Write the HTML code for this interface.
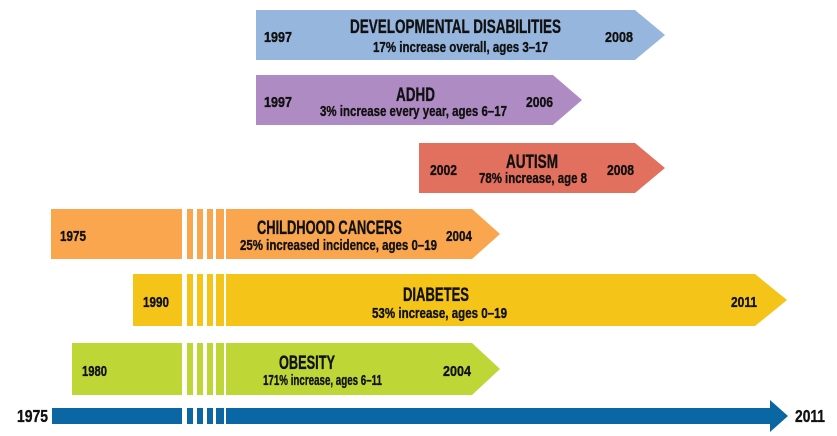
<!DOCTYPE html>
<html>
<head>
<meta charset="utf-8">
<style>
html,body{margin:0;padding:0;background:#fff;}
svg{display:block;}
text{font-family:"Liberation Sans Narrow","Liberation Sans",sans-serif;font-weight:bold;fill:#111;stroke:#111;stroke-width:0.35;}
</style>
</head>
<body>
<svg width="837" height="436" viewBox="0 0 837 436" xmlns="http://www.w3.org/2000/svg">
  <!-- Developmental disabilities -->
  <polygon points="256,10 635,10 665,35 635,60 256,60" fill="#97b6de"/>
  <!-- ADHD -->
  <polygon points="256,75 553,75 582,100 553,125 256,125" fill="#ae8bc3"/>
  <!-- Autism -->
  <polygon points="419,143 635,143 665,168 635,193 419,193" fill="#e2705f"/>

  <!-- Childhood cancers -->
  <g fill="#f9a64e">
    <rect x="51" y="209" width="131" height="50"/>
    <rect x="187" y="209" width="6" height="50"/>
    <rect x="197" y="209" width="6" height="50"/>
    <rect x="207" y="209" width="6" height="50"/>
    <rect x="216" y="209" width="8" height="50"/>
    <polygon points="226,209 472,209 500,234 472,259 226,259"/>
  </g>
  <!-- Diabetes -->
  <g fill="#f4c418">
    <rect x="133" y="274" width="49" height="52"/>
    <rect x="187" y="274" width="6" height="52"/>
    <rect x="197" y="274" width="6" height="52"/>
    <rect x="207" y="274" width="6" height="52"/>
    <rect x="216" y="274" width="8" height="52"/>
    <polygon points="226,274 755,274 787,300 755,326 226,326"/>
  </g>
  <!-- Obesity -->
  <g fill="#bed636">
    <rect x="72" y="343" width="110" height="52"/>
    <rect x="187" y="343" width="6" height="52"/>
    <rect x="197" y="343" width="6" height="52"/>
    <rect x="207" y="343" width="6" height="52"/>
    <rect x="216" y="343" width="8" height="52"/>
    <polygon points="226,343 472,343 500,369 472,395 226,395"/>
  </g>
  <!-- Axis -->
  <g fill="#0a67a3">
    <rect x="52" y="408" width="130" height="16"/>
    <rect x="187" y="408" width="6" height="16"/>
    <rect x="197" y="408" width="6" height="16"/>
    <rect x="207" y="408" width="6" height="16"/>
    <rect x="216" y="408" width="8" height="16"/>
    <rect x="226" y="408" width="546" height="16"/>
    <polygon points="770,400 788,416 770,432"/>
  </g>

  <!-- Dev text -->
  <text x="350" y="33" font-size="19" textLength="211" lengthAdjust="spacingAndGlyphs">DEVELOPMENTAL DISABILITIES</text>
  <text x="373" y="52" font-size="14.5" textLength="175" lengthAdjust="spacingAndGlyphs">17% increase overall, ages 3–17</text>
  <text x="264" y="42" font-size="14.5" textLength="28" lengthAdjust="spacingAndGlyphs">1997</text>
  <text x="605" y="42" font-size="14.5" textLength="28" lengthAdjust="spacingAndGlyphs">2008</text>

  <!-- ADHD text -->
  <text x="396" y="101" font-size="19" textLength="39" lengthAdjust="spacingAndGlyphs">ADHD</text>
  <text x="320" y="116" font-size="14.5" textLength="187" lengthAdjust="spacingAndGlyphs">3% increase every year, ages 6–17</text>
  <text x="264" y="107" font-size="14.5" textLength="28" lengthAdjust="spacingAndGlyphs">1997</text>
  <text x="526" y="107" font-size="14.5" textLength="27" lengthAdjust="spacingAndGlyphs">2006</text>

  <!-- Autism text -->
  <text x="506" y="168" font-size="19" textLength="52" lengthAdjust="spacingAndGlyphs">AUTISM</text>
  <text x="479" y="183" font-size="14.5" textLength="108" lengthAdjust="spacingAndGlyphs">78% increase, age 8</text>
  <text x="430" y="175" font-size="14.5" textLength="27" lengthAdjust="spacingAndGlyphs">2002</text>
  <text x="607" y="175" font-size="14.5" textLength="27" lengthAdjust="spacingAndGlyphs">2008</text>

  <!-- Cancer text -->
  <text x="257" y="234" font-size="19" textLength="145" lengthAdjust="spacingAndGlyphs">CHILDHOOD CANCERS</text>
  <text x="240" y="250" font-size="14.5" textLength="197" lengthAdjust="spacingAndGlyphs">25% increased incidence, ages 0–19</text>
  <text x="446" y="241" font-size="14.5" textLength="26" lengthAdjust="spacingAndGlyphs">2004</text>
  <text x="60" y="241" font-size="14.5" textLength="26" lengthAdjust="spacingAndGlyphs">1975</text>

  <!-- Diabetes text -->
  <text x="403" y="301" font-size="19" textLength="66" lengthAdjust="spacingAndGlyphs">DIABETES</text>
  <text x="372" y="318" font-size="14.5" textLength="135" lengthAdjust="spacingAndGlyphs">53% increase, ages 0–19</text>
  <text x="731" y="307" font-size="14.5" textLength="26" lengthAdjust="spacingAndGlyphs">2011</text>
  <text x="143" y="307" font-size="14.5" textLength="26" lengthAdjust="spacingAndGlyphs">1990</text>

  <!-- Obesity text -->
  <text x="279" y="369" font-size="19" textLength="56" lengthAdjust="spacingAndGlyphs">OBESITY</text>
  <text x="263" y="385" font-size="14.5" textLength="119" lengthAdjust="spacingAndGlyphs">171% increase, ages 6–11</text>
  <text x="443" y="376" font-size="14.5" textLength="28" lengthAdjust="spacingAndGlyphs">2004</text>
  <text x="82" y="376" font-size="14.5" textLength="25" lengthAdjust="spacingAndGlyphs">1980</text>

  <!-- Axis labels -->
  <text x="17" y="422" font-size="17.5" textLength="31" lengthAdjust="spacingAndGlyphs">1975</text>
  <text x="795" y="422" font-size="17.5" textLength="30" lengthAdjust="spacingAndGlyphs">2011</text>
</svg>
</body>
</html>
